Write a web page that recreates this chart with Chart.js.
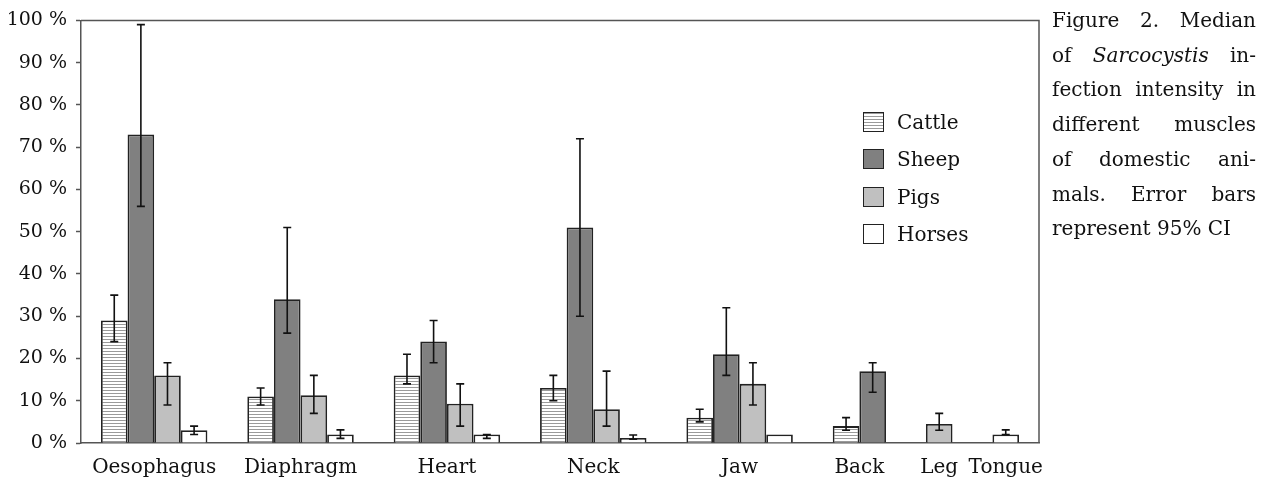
<!DOCTYPE html>
<html><head><meta charset="utf-8">
<script src="https://cdn.jsdelivr.net/npm/chart.js@4"></script>
<style>
body{margin:0;background:#fff;}
#wrap{position:relative;width:1266px;height:482px;overflow:hidden;font-family:"DejaVu Serif",serif;color:#111;}
#c{position:absolute;left:0;top:0;}
.row{position:absolute;left:863px;height:20px;display:flex;align-items:center;font-size:20px;}
.sw{width:21px;height:20px;box-sizing:border-box;border:1.6px solid #222;margin-right:13px;flex:none;}
#cap{position:absolute;left:1052px;top:3px;width:204px;font-size:20px;line-height:34.7px;}
#cap div{text-align:justify;text-align-last:justify;white-space:nowrap;}
#cap div.last{text-align-last:left;}
</style>
</head><body>
<div id="wrap">
<canvas id="c" width="1266" height="482"></canvas>
<div id="legend"></div>
<div id="cap">
<div>Figure 2. Median</div>
<div>of <i>Sarcocystis</i> in-</div>
<div>fection intensity in</div>
<div>different muscles</div>
<div>of domestic ani-</div>
<div>mals. Error bars</div>
<div class="last">represent 95% CI</div>
</div>
</div>
<script>
// ---- data ----
const categories = ['Oesophagus','Diaphragm','Heart','Neck','Jaw','Back','Leg','Tongue'];
const seriesNames = ['Cattle','Sheep','Pigs','Horses'];
const cattle   = [29, 11, 16, 13, 6, 4, null, null];
const cattleLo = [24, 9, 14, 10, 5, 3, null, null];
const cattleHi = [35, 13, 21, 16, 8, 6, null, null];
const sheep    = [73, 34, 24, 51, 21, 17, null, null];
const sheepLo  = [56, 26, 19, 30, 16, 12, null, null];
const sheepHi  = [99, 51, 29, 72, 32, 19, null, null];
const pigs     = [16, 11.3, 9.3, 8, 14, null, 4.5, null];
const pigsLo   = [9, 7, 4, 4, 9, null, 3, null];
const pigsHi   = [19, 16, 14, 17, 19, null, 7, null];
const horses   = [3, 2, 2, 1.2, 2, null, null, 2];
const horsesLo = [2, 1.1, 1.1, 0.9, null, null, null, 2];
const horsesHi = [4, 3.1, 2, 1.9, null, null, null, 3.1];
const yTickStep = 10;

// ---- layout (half-bar slots; only present bars are placed, packed per category) ----
const series = [cattle, sheep, pigs, horses];
const lows = [cattleLo, sheepLo, pigsLo, horsesLo];
const highs = [cattleHi, sheepHi, pigsHi, horsesHi];
const EDGE = 1.5, GAP = 3, BAR = 2;
const placements = [], labelAt = [];
let p = EDGE;
categories.forEach((cat, k) => {
  const start = p;
  series.forEach((arr, s) => { if (arr[k] != null) { placements.push({s, k, slot: p + 0.5}); p += BAR; } });
  labelAt.push({k, slot: (start + p) / 2 - 0.5});
  p += GAP;
});
const total = p - GAP + EDGE;
const labels = new Array(total).fill('');
labelAt.forEach(l => labels[l.slot] = categories[l.k]);
const slotData = series.map(() => new Array(total).fill(null));
const slotLo = series.map(() => new Array(total).fill(null));
const slotHi = series.map(() => new Array(total).fill(null));
placements.forEach(({s, k, slot}) => {
  slotData[s][slot] = series[s][k];
  slotLo[s][slot] = lows[s][k];
  slotHi[s][slot] = highs[s][k];
});

// ---- styles ----
const pc = document.createElement('canvas'); pc.width = 3; pc.height = 3;
const pctx = pc.getContext('2d');
pctx.fillStyle = '#fff'; pctx.fillRect(0,0,3,3);
pctx.fillStyle = '#9a9a9a'; pctx.fillRect(0,0,3,1);
const ctx = document.getElementById('c').getContext('2d');
const stripe = ctx.createPattern(pc, 'repeat');
const fills = [stripe, '#808080', '#c0c0c0', '#ffffff'];
const cssFills = ['repeating-linear-gradient(to bottom,#9a9a9a 0 1px,#fff 1px 3px)','#808080','#c0c0c0','#ffffff'];

// legend (HTML)
const legendTops = [112, 149, 187, 224];
const leg = document.getElementById('legend');
seriesNames.forEach((n, i) => {
  const r = document.createElement('div'); r.className = 'row'; r.style.top = legendTops[i] + 'px';
  const sw = document.createElement('div'); sw.className = 'sw'; sw.style.background = cssFills[i];
  const t = document.createElement('span'); t.textContent = n;
  r.appendChild(sw); r.appendChild(t); leg.appendChild(r);
});

const errorBars = {
  id: 'errorBars',
  afterDatasetsDraw(chart) {
    const c = chart.ctx, y = chart.scales.y;
    c.save(); c.strokeStyle = '#111'; c.lineWidth = 1.6;
    chart.data.datasets.forEach((ds, d) => {
      const meta = chart.getDatasetMeta(d);
      meta.data.forEach((el, i) => {
        const lo = ds.errLo[i], hi = ds.errHi[i];
        if (lo == null || hi == null || ds.data[i] == null) return;
        const x = el.x, y1 = y.getPixelForValue(lo), y2 = y.getPixelForValue(hi);
        c.beginPath();
        c.moveTo(x, y1); c.lineTo(x, y2);
        c.moveTo(x - 4, y1); c.lineTo(x + 4, y1);
        c.moveTo(x - 4, y2); c.lineTo(x + 4, y2);
        c.stroke();
      });
    });
    c.restore();
  }
};
const frame = {
  id: 'frame',
  afterDraw(chart) {
    const a = chart.chartArea, c = chart.ctx;
    c.save(); c.strokeStyle = '#555'; c.lineWidth = 1.5;
    c.beginPath(); c.moveTo(a.left, a.top); c.lineTo(a.right, a.top); c.lineTo(a.right, a.bottom); c.stroke();
    c.restore();
  }
};

new Chart(ctx, {
  type: 'bar',
  data: {
    labels,
    datasets: seriesNames.map((n, s) => ({
      label: n, data: slotData[s], errLo: slotLo[s], errHi: slotHi[s],
      backgroundColor: fills[s], borderColor: '#222', borderWidth: 1.8,
      grouped: false, categoryPercentage: 1, barPercentage: BAR
    }))
  },
  options: {
    animation: false, responsive: false, maintainAspectRatio: false,
    layout: {padding: {top: 20, right: 227, left: 0, bottom: 0}},
    plugins: {legend: {display: false}, tooltip: {enabled: false}},
    scales: {
      x: {
        grid: {display: false}, border: {color: '#555', width: 1.5},
        ticks: {autoSkip: false, maxRotation: 0, minRotation: 0, padding: 5, color: '#111',
                font: {family: 'DejaVu Serif', size: 20}},
        afterFit(s) { s.height = 39; }
      },
      y: {
        min: 0, max: 100,
        ticks: {stepSize: yTickStep, callback: v => v + ' %', padding: 9, color: '#111',
                font: {family: 'DejaVu Serif', size: 19}},
        grid: {drawOnChartArea: false, tickLength: 5, color: '#555', tickWidth: 1.5},
        border: {color: '#555', width: 1.5},
        afterFit(s) { s.width = 81; }
      }
    }
  },
  plugins: [errorBars, frame]
});
</script>
</body></html>
